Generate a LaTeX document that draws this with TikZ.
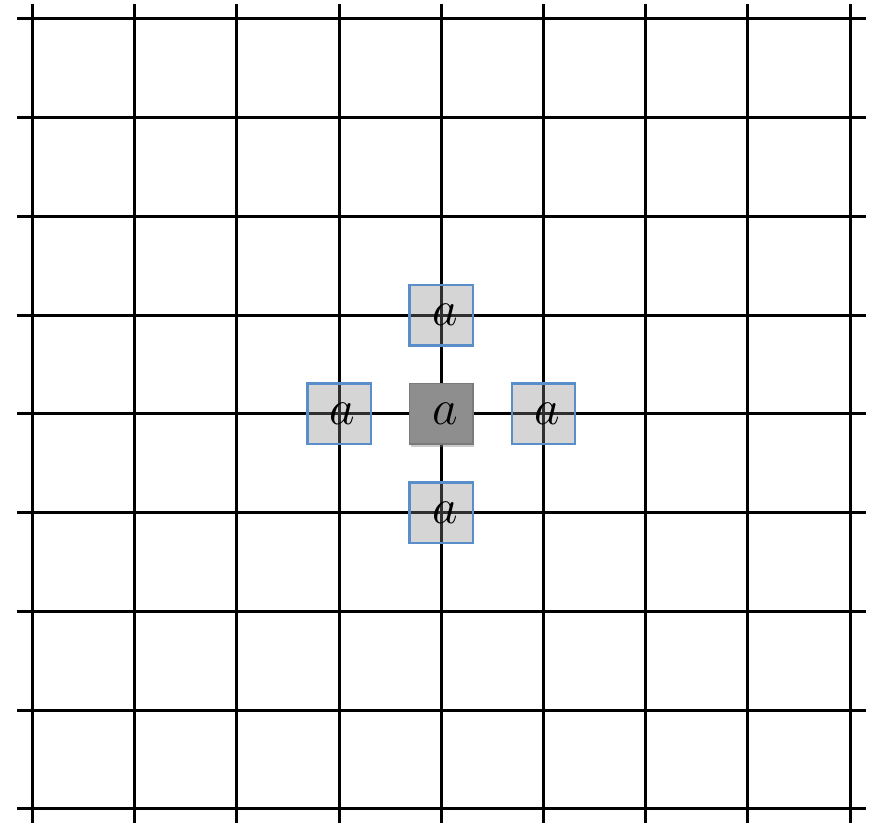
\documentclass[tikz,border=0pt]{standalone}
\usepackage{xcolor}
\usepackage{tikz}
\usetikzlibrary{positioning,shadows}
\definecolor{cellblue}{HTML}{5A8ECB}
\definecolor{cellgray}{HTML}{878787}
\definecolor{sitegray}{HTML}{8E8E8E}
\definecolor{siteedge}{HTML}{7A7A7A}
\newcommand{\cellmark}{\hspace{3.5pt}$a$}
\tikzstyle{gridline} = [line width=1.5pt, black]
\tikzstyle{cell} = [rectangle, draw=cellblue, line width=1.2pt, fill=cellgray,
    fill opacity=0.35, text opacity=1, minimum width=31.75pt, minimum height=30.25pt,
    inner sep=0pt, outer sep=0pt, font=\Huge]
\tikzstyle{site} = [rectangle, draw=siteedge, line width=0.8pt, fill=sitegray,
    minimum width=31.75pt, minimum height=30.25pt, inner sep=0pt, outer sep=0pt,
    font=\Huge, drop shadow={shadow xshift=0.6pt, shadow yshift=-1.4pt, opacity=0.4}]

\begin{document}
\begin{tikzpicture}[x=51.1pt, y=49.375pt, node distance=19.1pt and 19.35pt]
\useasboundingbox (-0.318,-0.1418) rectangle (8.244,8.192);

% lattice
\foreach \j in {0,...,8}
    \draw[gridline] (-0.147,\j) -- (8.156,\j);
\foreach \i in {0,...,8}
    \draw[gridline] (\i,-0.1418) -- (\i,8.147);

% site and its four neighbours
\node[site] (home) at (4,4) {\cellmark};
\node[cell, above=of home] (up) {\cellmark};
\node[cell, below=of home] (down) {\cellmark};
\node[cell, left=of home] (lt) {\cellmark};
\node[cell, right=of home] (rt) {\cellmark};
\end{tikzpicture}
\end{document}
